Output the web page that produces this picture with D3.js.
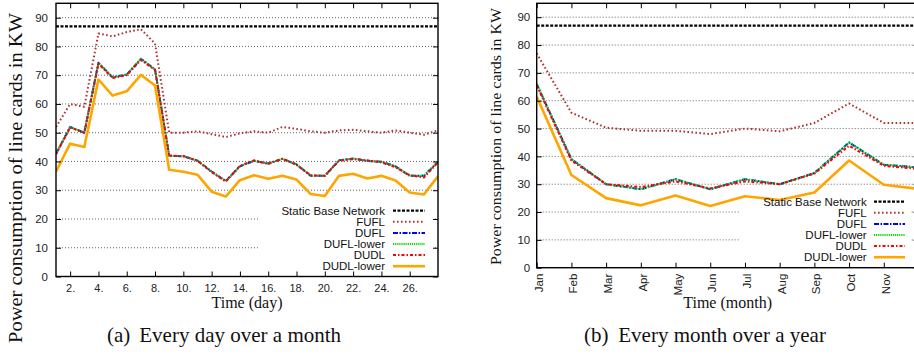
<!DOCTYPE html>
<html><head><meta charset="utf-8">
<script src="https://cdn.jsdelivr.net/npm/d3@7"></script>
<style>body{margin:0;background:#fff}svg{display:block}</style>
</head><body><svg id="c" width="914" height="356"></svg>
<script>
// ---------- DATA ----------
const seriesNames = ["Static Base Network","FUFL","DUFL","DUFL-lower","DUDL","DUDL-lower"];
const yTicks = [0,10,20,30,40,50,60,70,80,90];

// (a) Every day over a month
const days = [1,2,3,4,5,6,7,8,9,10,11,12,13,14,15,16,17,18,19,20,21,22,23,24,25,26,27,28];
const dayTicks = [2,4,6,8,10,12,14,16,18,20,22,24,26];
const dayTickLabels = ["2.","4.","6.","8.","10.","12.","14.","16.","18.","20.","22.","24.","26."];
const dayStatic = 87;
const dayFUFL  = [52,60,59,84.5,83.5,85,86,81,50,50,50.5,49.5,48.5,49.8,50.5,50,52,51.3,50.5,50,50.8,51,50.5,50,50.8,50,49.3,50.8];
const dayDUFL  = [42.7,52,50,74.3,69.3,70.2,75.7,72,42,41.8,40.3,36.5,33.2,38.3,40.2,39.3,40.9,39,35,35,40.4,41,40.2,39.9,38.3,35,35,39.9];
const dayDUFLlower = [42.7,52,50,74.3,69.3,70.2,75.7,72,42,41.8,40.3,36.5,33.2,38.3,40.2,39.3,40.9,39,35,35,40.4,41,40.2,39.9,38.3,35,35,39.9];
const dayDUDL  = [42.5,51.8,50,74,69,70,75.3,71.8,42,41.9,40.2,36.3,33,38.5,40.4,39.1,41,38.8,35.2,35,40.2,40.8,40.4,39.7,38,35.2,34.4,39.7];
const dayDUDLlower = [36.5,46.2,45,68.5,62.9,64.4,70.1,66.4,37.1,36.4,35.4,29.5,27.8,33.5,35.2,34,35,33.7,28.7,28,35,35.7,34.1,35,33.4,29.2,28.5,34.8];

// (b) Every month over a year
const months = ["Jan","Feb","Mar","Apr","May","Jun","Jul","Aug","Sep","Oct","Nov","Dec"];
const monthTicks = [0,1,2,3,4,5,6,7,8,9,10];
const monthTickLabels = ["Jan","Feb","Mar","Apr","May","Jun","Jul","Aug","Sep","Oct","Nov"];
const monStatic = 87;
const monFUFL  = [77,55.7,50.3,49.2,49.2,48,50,49,52,59,52,52];
const monDUFL  = [66,39,30,28.2,31.8,28.2,31.8,30,34,45,37,36];
const monDUFLlower = [66,39,30,28.2,31.8,28.2,31.8,30,34,45,37,36];
const monDUDL  = [65.5,38.5,30,29,31,28.5,31,30,33.8,43.8,36.6,35.5];
const monDUDLlower = [61.5,33.3,25,22.4,25.9,22.2,25.7,24.3,27,38.5,29.8,28.3];

// ---------- STYLES ----------
const styles = [
  {color:"#000000", width:2.2, dash:"3,1.5"},
  {color:"#b03030", width:2.0, dash:"1.6,2.4"},
  {color:"#0000ff", width:2.0, dash:"5,1.5,1.5,1.5"},
  {color:"#00e000", width:2.0, dash:"1.2,0.9"},
  {color:"#ff0000", width:2.0, dash:"3,2,1.5,2"},
  {color:"#ffa500", width:2.6, dash:null}
];

const svg = d3.select("#c");
svg.append("rect").attr("width",914).attr("height",356).attr("fill","#fff");

function panel(cfg){
  const g = svg.append("g");
  const x = d3.scaleLinear().domain(cfg.xDomain).range([cfg.x0,cfg.x1]);
  const y = d3.scaleLinear().domain([0,95]).range([cfg.y1,cfg.y0]);
  const clipId = "clip"+cfg.id;
  svg.append("clipPath").attr("id",clipId).append("rect")
    .attr("x",cfg.x0).attr("y",cfg.y0).attr("width",cfg.x1-cfg.x0).attr("height",cfg.y1-cfg.y0);

  // grid (blanked behind key)
  const grid = g.append("g").attr("stroke","#555").attr("stroke-width",0.9).attr("stroke-dasharray","1,2");
  yTicks.filter(v=>v>0).forEach(v=>{
    const yy = y(v);
    if (yy > cfg.keyTop && yy < cfg.keyBottom){
      grid.append("line").attr("x1",cfg.x0).attr("x2",cfg.keyX0).attr("y1",yy).attr("y2",yy);
      grid.append("line").attr("x1",cfg.keyX1).attr("x2",cfg.x1).attr("y1",yy).attr("y2",yy);
    } else {
      grid.append("line").attr("x1",cfg.x0).attr("x2",cfg.x1).attr("y1",yy).attr("y2",yy);
    }
  });

  // series
  const lines = g.append("g").attr("clip-path",`url(#${clipId})`);
  const line = d3.line().x(d=>x(d[0])).y(d=>y(d[1]));
  cfg.series.forEach((s,i)=>{
    const st = styles[i];
    const pts = s.length===undefined ? [[cfg.xDomain[0],s],[cfg.xDomain[1],s]] : cfg.cats.map((c,j)=>[c,s[j]]);
    lines.append("path").attr("d",line(pts)).attr("fill","none")
      .attr("stroke",st.color).attr("stroke-width",st.width)
      .attr("stroke-dasharray",st.dash).attr("stroke-linejoin","round");
  });

  // axes
  const font = "'Liberation Sans', Arial, sans-serif";
  const ax = g.append("g").attr("transform",`translate(0,${cfg.y1})`)
    .call(d3.axisBottom(x).tickValues(cfg.xTicks).tickFormat((d,i)=>cfg.xTickLabels[i])
      .tickSizeInner(-5).tickSizeOuter(0).tickPadding(7.5));
  g.append("g").attr("transform",`translate(0,${cfg.y0})`)
    .call(d3.axisTop(x).tickValues(cfg.xTicks).tickFormat("").tickSizeInner(-5).tickSizeOuter(0));
  g.append("g").attr("transform",`translate(${cfg.x0},0)`)
    .call(d3.axisLeft(y).tickValues(yTicks).tickSizeInner(-5).tickSizeOuter(0).tickPadding(cfg.yPad));
  g.append("g").attr("transform",`translate(${cfg.x1},0)`)
    .call(d3.axisRight(y).tickValues(yTicks).tickFormat("").tickSizeInner(-5).tickSizeOuter(0));
  g.selectAll(".domain").remove();
  g.selectAll(".tick line").attr("stroke","#000").attr("stroke-width",1);
  g.selectAll(".tick text").attr("font-family",font).attr("font-size",11.5).attr("fill","#222");
  if (cfg.rotate){
    ax.selectAll(".tick text").attr("transform","rotate(-90)").attr("x",-6).attr("y",0)
      .attr("dy",5.5).attr("text-anchor","end");
  } else {
    ax.selectAll(".tick text").attr("font-size",11);
  }

  // frame
  g.append("rect").attr("x",cfg.x0).attr("y",cfg.y0).attr("width",cfg.x1-cfg.x0).attr("height",cfg.y1-cfg.y0)
    .attr("fill","none").attr("stroke","#000").attr("stroke-width",1.4);

  // titles
  const serif = "'Liberation Serif','Times New Roman',serif";
  g.append("text").attr("x",(cfg.x0+cfg.x1)/2).attr("y",cfg.xTitleY).attr("text-anchor","middle")
    .attr("font-family",serif).attr("font-size",16).attr("fill","#111").text(cfg.xTitle);
  g.append("text").attr("transform",`translate(${cfg.yTitleX},${cfg.yTitleY}) rotate(-90)`)
    .attr("text-anchor","middle").attr("font-family",serif).attr("font-size",cfg.yTitleSize)
    .attr("textLength",cfg.yTitleLen).attr("lengthAdjust","spacingAndGlyphs")
    .attr("fill","#111").text("Power consumption of line cards in KW");

  // legend
  seriesNames.forEach((n,i)=>{
    const yy = cfg.legY + i*11.1;
    g.append("text").attr("x",cfg.legTextX).attr("y",yy).attr("dy","0.35em").attr("text-anchor","end")
      .attr("font-family",font).attr("font-size",11.5).attr("fill","#111").text(n);
    const st = styles[i];
    g.append("line").attr("x1",cfg.legX0).attr("x2",cfg.legX1).attr("y1",yy).attr("y2",yy)
      .attr("stroke",st.color).attr("stroke-width",st.width).attr("stroke-dasharray",st.dash);
  });

  // caption
  g.append("text").attr("x",cfg.capX).attr("y",342).attr("font-family",serif).attr("font-size",21)
    .attr("fill","#111").text(cfg.capA);
  g.append("text").attr("x",cfg.capX2).attr("y",342).attr("font-family",serif).attr("font-size",21)
    .attr("fill","#111").text(cfg.capB);
}

panel({
  id:"a", x0:56, x1:438, y0:3.3, y1:276.5, xDomain:[1,28], cats:days,
  xTicks:dayTicks, xTickLabels:dayTickLabels, rotate:false, yPad:8,
  series:[dayStatic,dayFUFL,dayDUFL,dayDUFLlower,dayDUDL,dayDUDLlower],
  keyTop:203, keyBottom:273, keyX0:258, keyX1:435,
  legY:210.7, legTextX:385, legX0:393, legX1:425,
  xTitle:"Time (day)", xTitleY:308, yTitleX:21.5, yTitleY:178, yTitleSize:18, yTitleLen:330,
  capX:107, capX2:139.3, capA:"(a)", capB:"Every day over a month"
});
panel({
  id:"b", x0:536.7, x1:918.5, y0:3.3, y1:267.7, xDomain:[0,11], cats:[0,1,2,3,4,5,6,7,8,9,10,11],
  xTicks:monthTicks, xTickLabels:monthTickLabels, rotate:true, yPad:6.5,
  series:[monStatic,monFUFL,monDUFL,monDUFLlower,monDUDL,monDUDLlower],
  keyTop:195, keyBottom:264, keyX0:740, keyX1:911.7,
  legY:201.7, legTextX:866.7, legX0:874, legX1:905,
  xTitle:"Time (month)", xTitleY:308, yTitleX:500.5, yTitleY:136.5, yTitleSize:15.5, yTitleLen:257,
  capX:584, capX2:618.3, capA:"(b)", capB:"Every month over a year"
});
</script></body></html>
